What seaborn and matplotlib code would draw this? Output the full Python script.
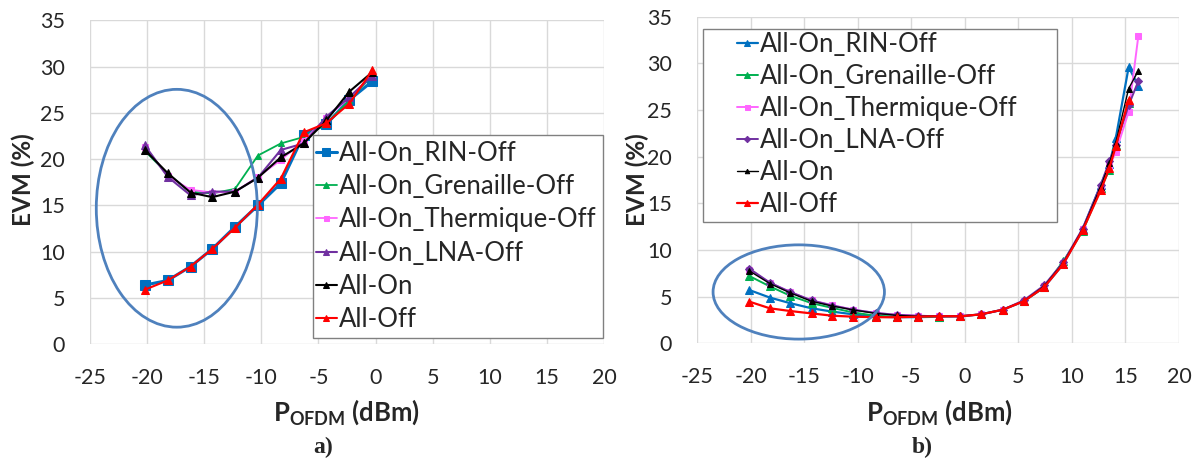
import numpy as np
import matplotlib
matplotlib.use("Agg")
import matplotlib.pyplot as plt
import seaborn as sns
from matplotlib.patches import Ellipse, Rectangle

# ---- data ----
series_names = ["All-On_RIN-Off", "All-On_Grenaille-Off", "All-On_Thermique-Off",
                "All-On_LNA-Off", "All-On", "All-Off"]

# panel a)
p_ofdm_a = [-20.2, -18.2, -16.2, -14.3, -12.3, -10.3, -8.3, -6.3, -4.3, -2.3, -0.3]
rin_off_a = [6.4, 6.9, 8.4, 10.3, 12.7, 15.0, 17.4, 22.6, 23.8, 26.4, 28.4]
gren_off_a = [20.9, 18.4, 16.5, 16.3, 16.8, 20.4, 21.7, 22.4, 23.8, 26.4, 29.0]
therm_off_a = [21.3, 18.2, 16.7, 16.4, 16.5, 18.1, 19.9, 22.0, 24.5, 26.6, 29.1]
lna_off_a = [21.5, 18.1, 16.1, 16.5, 16.5, 18.0, 21.0, 21.7, 24.6, 26.7, 29.0]
all_on_a = [21.0, 18.5, 16.4, 15.9, 16.5, 18.0, 20.2, 21.7, 24.2, 27.3, 29.4]
all_off_a = [5.9, 6.9, 8.4, 10.3, 12.6, 15.1, 17.9, 22.9, 23.9, 26.0, 29.6]

# panel b)
p_ofdm_b = [-20.1, -18.2, -16.3, -14.3, -12.4, -10.4, -8.3, -6.35, -4.4, -2.4, -0.4,
            1.5, 3.55, 5.5, 7.4, 9.2, 11.0, 12.7, 13.5, 14.1, 15.3, 16.2]
rin_off_b = [5.7, 4.9, 4.3, 3.75, 3.4, 3.1, 2.85, 2.8, 2.8, 2.85, 2.9,
             3.1, 3.6, 4.5, 6.0, 8.5, 12.2, 17.0, 19.2, 22.0, 29.6, 27.6]
gren_off_b = [7.2, 6.1, 5.1, 4.3, 3.8, 3.3, 2.95, 2.85, 2.85, 2.85, 2.9,
              3.1, 3.6, 4.5, 6.0, 8.8, 12.0, 16.6, 18.6, 21.3, 25.8, np.nan]
therm_off_b = [7.9, 6.5, 5.5, 4.6, 4.1, 3.6, 3.25, 3.05, 2.95, 2.9, 2.9,
               3.1, 3.6, 4.5, 6.1, 8.6, 12.2, 16.6, 19.0, 20.5, 24.8, 32.9]
lna_off_b = [8.0, 6.5, 5.5, 4.6, 4.05, 3.6, 3.25, 3.05, 2.95, 2.9, 2.9,
             3.1, 3.6, 4.6, 6.2, 8.7, 12.3, 17.0, 19.5, 21.3, 25.5, 28.1]
all_on_b = [7.75, 6.4, 5.4, 4.5, 4.0, 3.57, 3.2, 3.0, 2.9, 2.9, 2.9,
            3.1, 3.6, 4.5, 6.1, 8.6, 12.2, 16.8, 19.3, 21.5, 27.3, 29.2]
all_off_b = [4.46, 3.75, 3.46, 3.2, 2.96, 2.85, 2.8, 2.79, 2.85, 2.9, 2.9,
             3.1, 3.6, 4.5, 6.0, 8.5, 12.1, 16.4, 18.8, 21.1, 26.1, np.nan]

x_ticks = [-25, -20, -15, -10, -5, 0, 5, 10, 15, 20]
y_ticks = [0, 5, 10, 15, 20, 25, 30, 35]

colors = ["#0070C0", "#00B050", "#FF66FF", "#7030A0", "#000000", "#FF0000"]
markers_a = ["s", "^", "s", "^", "^", "^"]
msize_a = [6.5, 5, 4.5, 5.5, 5.5, 5.5]
lw_a = [2.2, 1.3, 1.3, 1.5, 1.5, 1.5]
markers_b = ["^", "^", "s", "D", "^", "^"]
msize_b = [5.5, 5.5, 4.5, 4, 4, 6]
lw_b = [1.6, 1.4, 1.4, 1.4, 1.0, 1.6]

sns.set_style("white")
plt.rcParams["font.family"] = ["Lato", "DejaVu Sans"]
plt.rcParams["axes.unicode_minus"] = False
plt.rcParams["mathtext.fontset"] = "custom"
plt.rcParams["mathtext.rm"] = "Lato"
plt.rcParams["mathtext.bf"] = "Lato:bold"

W, H = 1196, 463
fig = plt.figure(figsize=(W / 100, H / 100), dpi=100)
ax_a = fig.add_axes([90 / W, 1 - 344.3 / H, 514 / W, 323.9 / H])
ax_b = fig.add_axes([697 / W, 1 - 343.3 / H, 482 / W, 326.6 / H])

grid_c = "#d9d9d9"


def draw_panel(ax, x, ys, markers, msizes, lws):
    for name, y, c, m, ms, lw in zip(series_names, ys, colors, markers, msizes, lws):
        sns.lineplot(x=x, y=y, ax=ax, color=c, marker=m, markersize=ms,
                     markeredgecolor=c, linewidth=lw, label=name, sort=False)
    ax.set_xlim(-25, 20)
    ax.set_ylim(0, 35)
    ax.set_xticks(x_ticks)
    ax.set_yticks(y_ticks)
    ax.set_xticklabels([str(t) for t in x_ticks])
    ax.set_yticklabels([str(t) for t in y_ticks])
    ax.grid(True, color=grid_c, linewidth=1)
    for s in ax.spines.values():
        s.set_visible(False)
    ax.tick_params(axis="x", direction="out", length=4, width=1, color=grid_c,
                   pad=13, labelsize=15.5)
    ax.tick_params(axis="y", direction="out", length=6, width=1, color=grid_c,
                   pad=12, labelsize=15.5)
    ax.set_ylabel("EVM (%)", fontsize=17.5, fontweight="bold", va="center")
    ax.set_xlabel(r"$\mathbf{P}_{\mathbf{OFDM}}$ (dBm)", fontsize=18.5,
                  fontweight="bold", va="center")


draw_panel(ax_a, p_ofdm_a,
           [rin_off_a, gren_off_a, therm_off_a, lna_off_a, all_on_a, all_off_a],
           markers_a, msize_a, lw_a)
draw_panel(ax_b, p_ofdm_b,
           [rin_off_b, gren_off_b, therm_off_b, lna_off_b, all_on_b, all_off_b],
           markers_b, msize_b, lw_b)

ax_a.xaxis.set_label_coords(0.5, -0.209)
ax_a.yaxis.set_label_coords(-0.130, 0.507)
ax_b.xaxis.set_label_coords(0.504, -0.21)
ax_b.yaxis.set_label_coords(-0.124, 0.5)

# highlight ellipses
ax_a.add_patch(Ellipse((-17.4, 14.7), 14.1, 25.7, fill=False,
                       edgecolor="#4F81BD", linewidth=2, zorder=6))
ax_b.add_patch(Ellipse((-15.5, 5.5), 16.0, 10.1, fill=False,
                       edgecolor="#4F81BD", linewidth=2, zorder=6))

# legends with Excel-like boxes
for ax, box, anchor, spacing in [(ax_a, (313, 135, 603, 338), (316, 141), 0.32),
                                 (ax_b, (703, 29, 1057, 222), (737, 32), 0.27)]:
    x0, y0, x1, y1 = box
    ax.add_patch(Rectangle((x0 / W, 1 - y1 / H), (x1 - x0) / W, (y1 - y0) / H,
                           transform=fig.transFigure, facecolor="white",
                           edgecolor="#808080", linewidth=1, zorder=7,
                           clip_on=False))
    leg = ax.legend(loc="upper left", bbox_to_anchor=(anchor[0] / W, 1 - anchor[1] / H),
                    bbox_transform=fig.transFigure, frameon=False, fontsize=18.5,
                    handlelength=0.8, handletextpad=0.1, labelspacing=spacing,
                    borderpad=0, borderaxespad=0, markerscale=0.8)
    leg.set_zorder(8)

fig.text(323 / W, 1 - 447 / H, "a)", fontsize=17, fontweight="bold",
         family="Liberation Serif", ha="center", va="center")
fig.text(922 / W, 1 - 447 / H, "b)", fontsize=17, fontweight="bold",
         family="Liberation Serif", ha="center", va="center")

fig.savefig("out.png", dpi=100)
